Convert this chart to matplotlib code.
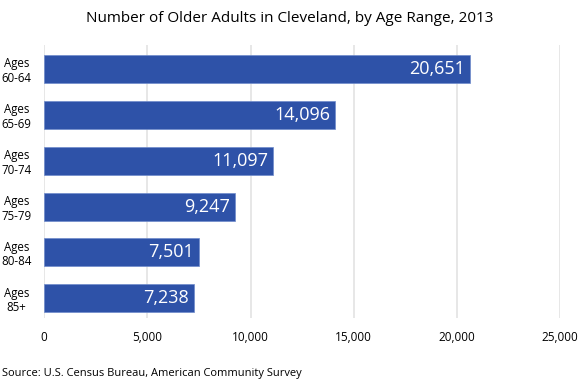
#!/usr/bin/env python

import matplotlib
matplotlib.use("Agg")
import matplotlib.pyplot as plt
from matplotlib.ticker import FuncFormatter

age_ranges = ["Ages\n60-64", "Ages\n65-69", "Ages\n70-74", "Ages\n75-79", "Ages\n80-84", "Ages\n85+"]
counts = [20651, 14096, 11097, 9247, 7501, 7238]
x_ticks = [0, 5000, 10000, 15000, 20000, 25000]

BAR_COLOR = "#2E52A8"

plt.rcParams['font.family'] = ['Open Sans', 'DejaVu Sans']

fig = plt.figure(figsize=(5.8, 3.87), dpi=100)
ax = fig.add_axes([0.076, 0.178, 0.89, 0.706])

pos = list(range(len(counts)))
ax.barh(pos, counts, height=0.61, color=BAR_COLOR, edgecolor="#6F8BCB", linewidth=0.5, zorder=3)

# value labels inside the bar ends
for p, v in zip(pos, counts):
    ax.text(v - 250, p, f"{v:,}", color="white", ha="right", va="center", fontsize=13, zorder=4)

ax.set_xlim(0, 25000)
ax.set_ylim(5.43, -0.52)
ax.set_xticks(x_ticks)
ax.xaxis.set_major_formatter(FuncFormatter(lambda x, _: f"{int(x):,}"))
ax.set_yticks(pos)
ax.set_yticklabels(age_ranges, fontsize=8.3, linespacing=1.15, ha="center")
ax.tick_params(axis="x", labelsize=8.5, length=0, pad=9)
ax.tick_params(axis="y", length=0, pad=20)

ax.grid(axis="x", color="#E3E3E3", linewidth=1.2, zorder=0)
for s in ax.spines.values():
    s.set_visible(False)

fig.text(0.5, 0.953, "Number of Older Adults in Cleveland, by Age Range, 2013",
         ha="center", va="center", fontsize=11)
fig.text(0.003, 0.036, "Source: U.S. Census Bureau, American Community Survey",
         ha="left", va="center", fontsize=8)

fig.savefig("out.png", dpi=100)
